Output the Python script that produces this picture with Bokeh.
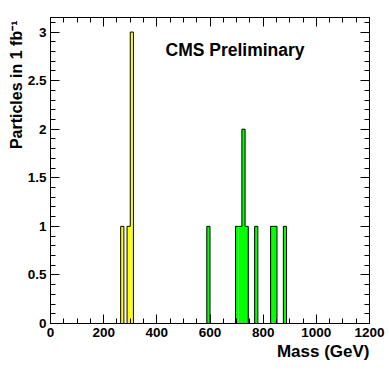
import numpy as np
from bokeh.plotting import figure
from bokeh.models import Range1d, SingleIntervalTicker, LinearAxis, Label, Title, NumeralTickFormatter
from bokeh.embed import file_html
from bokeh.resources import INLINE

# ---- data ----
bin_width = 12.0
yellow_bin_low = [264, 288, 300]
yellow_counts = [1, 1, 3]
green_bin_low = [588, 696, 708, 720, 732, 768, 828, 840, 876]
green_counts = [1, 1, 1, 2, 1, 1, 1, 1, 1]

x_range = (0, 1200)
y_range = (0, 3.15)
x_tick_step = 200
y_tick_step = 0.5

title_text = "CMS Preliminary"
x_label = "Mass (GeV)"
y_label = "Particles in 1 fb\u207b\u00b9"

FONT = "Liberation Sans"

p = figure(width=389, height=373, x_range=Range1d(*x_range), y_range=Range1d(*y_range),
           output_backend="svg", toolbar_location=None,
           min_border_left=50, min_border_right=20, min_border_top=17, min_border_bottom=50,
           x_axis_location=None, y_axis_location=None)
p.background_fill_color = "white"
p.border_fill_color = "white"
p.outline_line_color = "black"
p.outline_line_width = 1
p.xgrid.visible = False
p.ygrid.visible = False


def style_axis(ax, labels=True):
    ax.major_tick_in = 9
    ax.major_tick_out = 0
    ax.minor_tick_in = 5
    ax.minor_tick_out = 0
    ax.major_tick_line_color = "black"
    ax.minor_tick_line_color = "black"
    ax.axis_line_color = "black"
    if labels:
        ax.major_label_text_font = FONT
        ax.major_label_text_font_style = "bold"
        ax.major_label_text_font_size = "13.5px"
        ax.major_label_text_color = "black"
    else:
        ax.major_label_text_font_size = "0px"
        ax.major_label_standoff = 0
        ax.axis_line_color = None


def xticker():
    return SingleIntervalTicker(interval=x_tick_step, num_minor_ticks=4)


def yticker():
    return SingleIntervalTicker(interval=y_tick_step, num_minor_ticks=5)


bx = LinearAxis(ticker=xticker())
style_axis(bx)
bx.major_label_standoff = 4
p.add_layout(bx, "below")

ly = LinearAxis(ticker=yticker(), formatter=NumeralTickFormatter(format="0.[0]"))
style_axis(ly)
ly.major_label_standoff = 4
p.add_layout(ly, "left")

tx = LinearAxis(ticker=xticker())
style_axis(tx, labels=False)
p.add_layout(tx, "above")

ry = LinearAxis(ticker=yticker())
style_axis(ry, labels=False)
p.add_layout(ry, "right")

# axis titles as Title annotations in the side panels (not clipped to the frame)
p.add_layout(Title(text=x_label, align="right", offset=0, standoff=0,
                   text_font=FONT, text_font_style="bold", text_font_size="17px",
                   text_color="black"), "below")
p.add_layout(Title(text=y_label, align="right", offset=3, standoff=0,
                   text_font=FONT, text_font_style="bold", text_font_size="16px",
                   text_color="black"), "left")


def draw_hist(lows, counts, color):
    lows = np.asarray(lows, dtype=float)
    counts = np.asarray(counts, dtype=float)
    p.quad(left=lows, right=lows + bin_width, bottom=0, top=counts,
           fill_color=color, line_color=None)
    # step outline across the populated span, including empty bins
    start, stop = lows.min(), lows.max() + bin_width
    nb = int(round((stop - start) / bin_width))
    full = np.zeros(nb)
    for lo, c in zip(lows, counts):
        full[int(round((lo - start) / bin_width))] = c
    edges = start + bin_width * np.arange(nb + 1)
    xs = [edges[0]]
    ys = [0.0]
    for i in range(nb):
        xs += [edges[i], edges[i + 1]]
        ys += [full[i], full[i]]
    xs.append(edges[-1])
    ys.append(0.0)
    p.line(xs, ys, line_color="black", line_width=1)


draw_hist(yellow_bin_low, yellow_counts, "#ffff00")
draw_hist(green_bin_low, green_counts, "#00ff00")

p.add_layout(Label(x=115, y=274, x_units="screen", y_units="screen", text=title_text,
                   text_font=FONT, text_font_style="bold", text_font_size="17.5px",
                   text_align="left", text_baseline="middle", text_color="black"))

open("out.html", "w").write(file_html(p, INLINE))
